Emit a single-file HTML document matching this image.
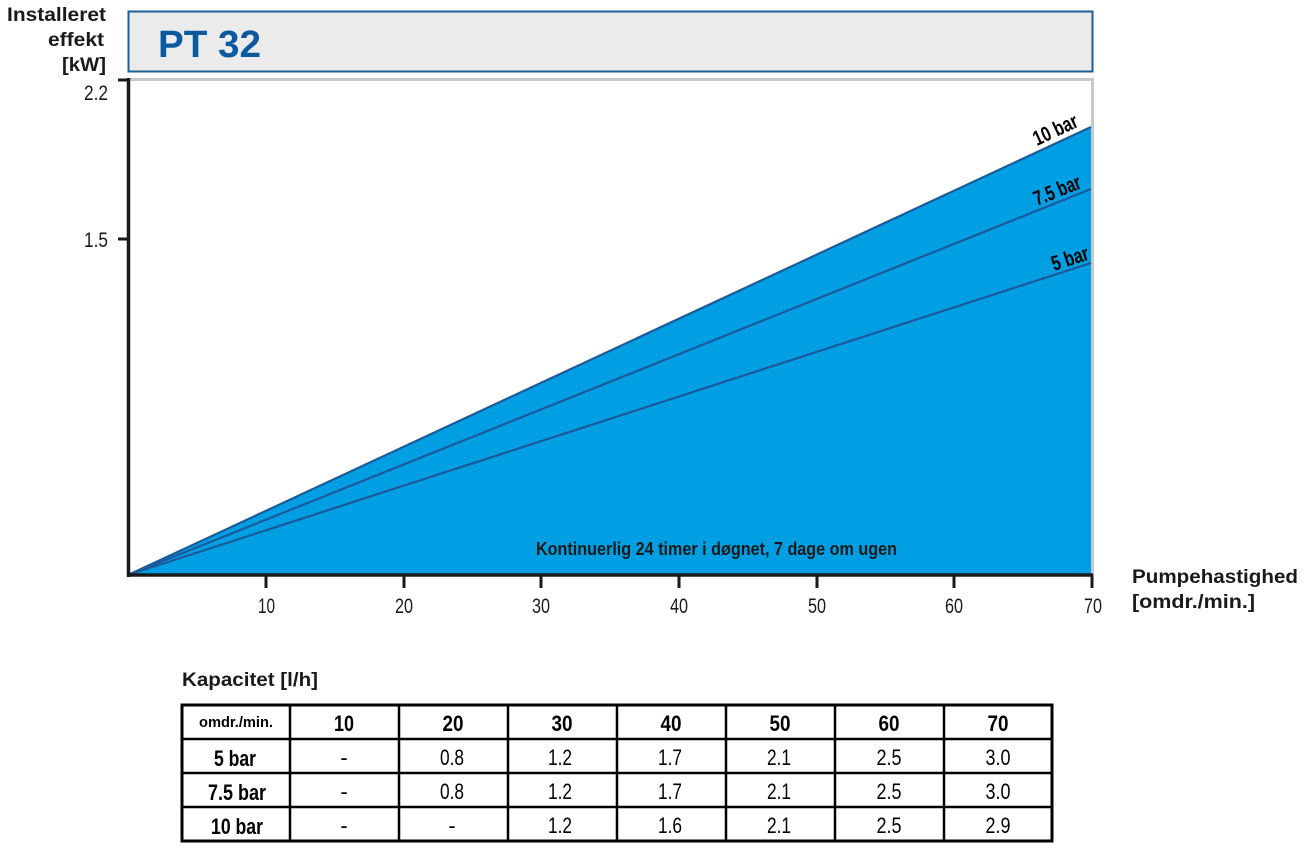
<!DOCTYPE html>
<html><head><meta charset="utf-8"><style>
html,body{margin:0;padding:0;background:#fff;}
svg{display:block;}
text{font-family:"Liberation Sans",sans-serif;}
</style></head><body>
<svg width="1306" height="855" viewBox="0 0 1306 855" xmlns="http://www.w3.org/2000/svg">
<rect x="128.5" y="11.5" width="964" height="60" fill="#ebebeb" stroke="#1d5f9a" stroke-width="2"/>
<text x="158" y="57" font-size="38" font-weight="bold" fill="#0b5aa0" textLength="103" lengthAdjust="spacingAndGlyphs">PT 32</text>
<g font-weight="bold" font-size="19" fill="#1a1a1a" text-anchor="end">
<text x="106" y="21" textLength="99" lengthAdjust="spacingAndGlyphs">Installeret</text>
<text x="104" y="46" textLength="56" lengthAdjust="spacingAndGlyphs">effekt</text>
<text x="106" y="71" textLength="44" lengthAdjust="spacingAndGlyphs">[kW]</text>
</g>
<line x1="128" y1="79.5" x2="1094" y2="79.5" stroke="#c8c8c8" stroke-width="3"/>
<line x1="1092.5" y1="79" x2="1092.5" y2="575" stroke="#c8c8c8" stroke-width="3"/>
<polygon points="128,575 1091,127 1091,575" fill="#009fe3"/>
<g stroke="#1c5a9a" stroke-width="2.2" fill="none">
<line x1="128" y1="575" x2="1091" y2="127"/>
<line x1="128" y1="575" x2="1091" y2="189"/>
<line x1="128" y1="575" x2="1091" y2="263"/>
</g>
<line x1="127" y1="575" x2="1093" y2="575" stroke="#1a1a1a" stroke-width="3.5"/>
<line x1="128.5" y1="78" x2="128.5" y2="577" stroke="#1a1a1a" stroke-width="3.5"/>
<line x1="118" y1="80" x2="130" y2="80" stroke="#1a1a1a" stroke-width="3"/>
<line x1="118" y1="239" x2="130" y2="239" stroke="#1a1a1a" stroke-width="3"/>
<g stroke="#1a1a1a" stroke-width="3">
<line x1="266" y1="575" x2="266" y2="588"/><line x1="404" y1="575" x2="404" y2="588"/>
<line x1="541" y1="575" x2="541" y2="588"/><line x1="679" y1="575" x2="679" y2="588"/>
<line x1="817" y1="575" x2="817" y2="588"/><line x1="954" y1="575" x2="954" y2="588"/>
<line x1="1092" y1="575" x2="1092" y2="588"/>
</g>
<g font-size="21" fill="#1a1a1a" text-anchor="end">
<text x="108" y="100" textLength="24" lengthAdjust="spacingAndGlyphs">2.2</text>
<text x="108" y="247" textLength="24" lengthAdjust="spacingAndGlyphs">1.5</text>
</g>
<g font-size="21" fill="#1a1a1a">
<text x="258" y="613" textLength="17" lengthAdjust="spacingAndGlyphs">10</text>
<text x="395" y="613" textLength="18" lengthAdjust="spacingAndGlyphs">20</text>
<text x="532" y="613" textLength="18" lengthAdjust="spacingAndGlyphs">30</text>
<text x="670" y="613" textLength="18" lengthAdjust="spacingAndGlyphs">40</text>
<text x="808" y="613" textLength="18" lengthAdjust="spacingAndGlyphs">50</text>
<text x="945" y="613" textLength="18" lengthAdjust="spacingAndGlyphs">60</text>
<text x="1084" y="613" textLength="18" lengthAdjust="spacingAndGlyphs">70</text>
</g>
<g font-weight="bold" font-size="19" fill="#1a1a1a">
<text x="1132" y="583" textLength="166" lengthAdjust="spacingAndGlyphs">Pumpehastighed</text>
<text x="1132" y="608" textLength="123" lengthAdjust="spacingAndGlyphs">[omdr./min.]</text>
</g>
<text x="536" y="555" font-size="18" font-weight="bold" fill="#1a1a1a" textLength="361" lengthAdjust="spacingAndGlyphs">Kontinuerlig 24 timer i døgnet, 7 dage om ugen</text>
<g font-weight="bold" font-size="21" fill="#000">
<text transform="translate(1037,146) rotate(-25)" textLength="47" lengthAdjust="spacingAndGlyphs">10 bar</text>
<text transform="translate(1037,206) rotate(-22)" textLength="49" lengthAdjust="spacingAndGlyphs">7.5 bar</text>
<text transform="translate(1054,271) rotate(-18)" textLength="38" lengthAdjust="spacingAndGlyphs">5 bar</text>
</g>
<text x="182" y="686" font-size="19" font-weight="bold" fill="#1a1a1a" textLength="136" lengthAdjust="spacingAndGlyphs">Kapacitet [l/h]</text>
<rect x="182" y="705" width="870" height="136" fill="none" stroke="#000" stroke-width="3"/>
<g stroke="#000" stroke-width="2.5">
<line x1="182" y1="739" x2="1052" y2="739"/><line x1="182" y1="773" x2="1052" y2="773"/><line x1="182" y1="807" x2="1052" y2="807"/>
<line x1="290" y1="705" x2="290" y2="841"/><line x1="399" y1="705" x2="399" y2="841"/>
<line x1="508" y1="705" x2="508" y2="841"/><line x1="617" y1="705" x2="617" y2="841"/>
<line x1="726" y1="705" x2="726" y2="841"/><line x1="835" y1="705" x2="835" y2="841"/>
<line x1="944" y1="705" x2="944" y2="841"/>
</g>
<g text-anchor="middle" fill="#000">
<text x="236" y="727" font-size="15" font-weight="bold" textLength="74" lengthAdjust="spacingAndGlyphs">omdr./min.</text>
<g font-size="22" font-weight="bold">
<text x="344" y="731" textLength="20" lengthAdjust="spacingAndGlyphs">10</text><text x="453" y="731" textLength="21" lengthAdjust="spacingAndGlyphs">20</text><text x="562" y="731" textLength="21" lengthAdjust="spacingAndGlyphs">30</text>
<text x="671" y="731" textLength="21" lengthAdjust="spacingAndGlyphs">40</text><text x="780" y="731" textLength="21" lengthAdjust="spacingAndGlyphs">50</text><text x="889" y="731" textLength="21" lengthAdjust="spacingAndGlyphs">60</text><text x="998" y="731" textLength="21" lengthAdjust="spacingAndGlyphs">70</text>
<text x="235" y="766" textLength="42" lengthAdjust="spacingAndGlyphs">5 bar</text>
<text x="237" y="800" textLength="58" lengthAdjust="spacingAndGlyphs">7.5 bar</text>
<text x="237" y="834" textLength="52" lengthAdjust="spacingAndGlyphs">10 bar</text>
</g>
<g font-size="22">
<text x="344" y="765">-</text><text x="452" y="765" textLength="24" lengthAdjust="spacingAndGlyphs">0.8</text><text x="560" y="765" textLength="24" lengthAdjust="spacingAndGlyphs">1.2</text><text x="670" y="765" textLength="24" lengthAdjust="spacingAndGlyphs">1.7</text><text x="779" y="765" textLength="24" lengthAdjust="spacingAndGlyphs">2.1</text><text x="889" y="765" textLength="25" lengthAdjust="spacingAndGlyphs">2.5</text><text x="998" y="765" textLength="25" lengthAdjust="spacingAndGlyphs">3.0</text>
<text x="344" y="799">-</text><text x="452" y="799" textLength="24" lengthAdjust="spacingAndGlyphs">0.8</text><text x="560" y="799" textLength="24" lengthAdjust="spacingAndGlyphs">1.2</text><text x="670" y="799" textLength="24" lengthAdjust="spacingAndGlyphs">1.7</text><text x="779" y="799" textLength="24" lengthAdjust="spacingAndGlyphs">2.1</text><text x="889" y="799" textLength="25" lengthAdjust="spacingAndGlyphs">2.5</text><text x="998" y="799" textLength="25" lengthAdjust="spacingAndGlyphs">3.0</text>
<text x="344" y="833">-</text><text x="452" y="833">-</text><text x="560" y="833" textLength="24" lengthAdjust="spacingAndGlyphs">1.2</text><text x="670" y="833" textLength="24" lengthAdjust="spacingAndGlyphs">1.6</text><text x="779" y="833" textLength="24" lengthAdjust="spacingAndGlyphs">2.1</text><text x="889" y="833" textLength="25" lengthAdjust="spacingAndGlyphs">2.5</text><text x="998" y="833" textLength="25" lengthAdjust="spacingAndGlyphs">2.9</text>
</g>
</g>
</svg>
</body></html>
